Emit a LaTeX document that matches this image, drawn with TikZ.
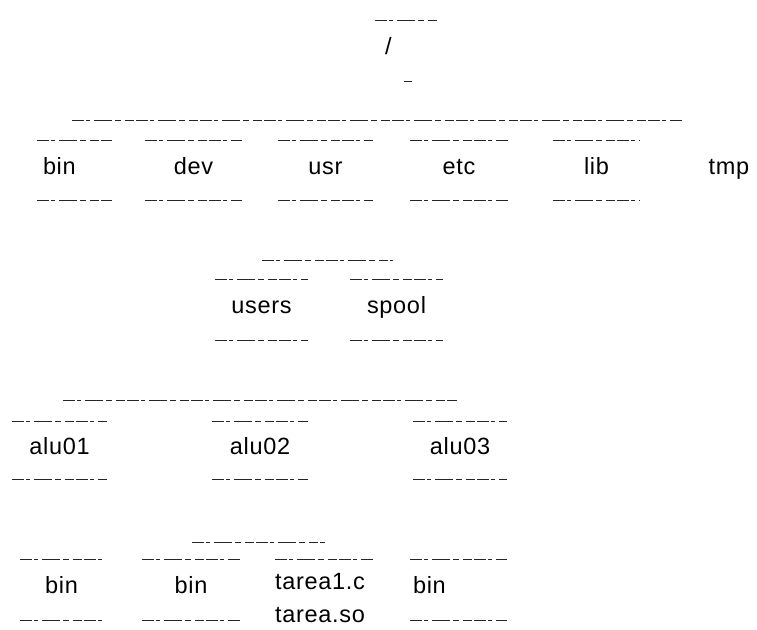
\documentclass[tikz,border=0pt]{standalone}
\usepackage{fontspec}
\setmainfont{Liberation Sans}[LetterSpace=3]
\begin{document}
\begin{tikzpicture}[x=1pt,y=-1pt,
  lbl/.style={font=\fontsize{23.5}{33}\selectfont, text=black},
  dir/.style={lbl, rectangle, inner ysep=0pt, minimum height=59pt,
    text height=0.72em, text depth=0pt},
  cw/.style={inner xsep=0pt, text width=#1pt, align=center},
  lw/.style 2 args={inner xsep=#2pt, text width=#1pt, align=left},
  rule/.style={line width=0.9pt, black!85,
    dash pattern=on 12pt off 2pt on 4pt off 4pt on 18pt off 3pt on 6pt off 4pt on 9pt off 2pt},
  bus/.style={rule}]
\useasboundingbox (0,0) rectangle (757,629);

% root
\node[dir, minimum height=60pt, lw={42}{10}] (root) at (406,51) {/};

% level 1
\node[dir, lw={63}{6}] (bin)  at (74.5,170.5) {bin};
\node[dir, cw=97] (dev)  at (193.5,170.5) {dev};
\node[dir, cw=95] (usr)  at (325.5,170.5) {usr};
\node[dir, cw=98] (etc)  at (459,170.5) {etc};
\node[dir, cw=87] (lib)  at (596.5,170.5) {lib};
\node[dir, cw=50] (tmp)  at (729,170.5) {tmp};

% level 2
\node[dir, minimum height=60pt, cw=93] (users) at (261.5,310) {users};
\node[dir, minimum height=60pt, cw=93] (spool) at (396.5,310) {spool};

% level 3
\node[dir, minimum height=57pt, cw=95] (alu01) at (59.5,450.5) {alu01};
\node[dir, minimum height=57pt, cw=96] (alu02) at (260,450.5) {alu02};
\node[dir, minimum height=57pt, cw=94] (alu03) at (460,450.5) {alu03};

% level 4
\node[dir, minimum height=60pt, cw=83] (binA) at (61.5,590) {bin};
\node[dir, minimum height=60pt, cw=98] (binB) at (191,590) {bin};
\node[dir, minimum height=60pt, lw={91}{3}] (binC) at (458.5,590) {bin};
\node[dir, minimum height=60pt, cw=98] (tareabox) at (324,590) {};
\node[lbl, inner sep=0pt, align=center] (tarea) at (320,598) {tarea1.c\\tarea.so};

% box borders (top and bottom)
\foreach \n in {bin,dev,usr,etc,lib,users,spool,alu01,alu02,alu03,binA,binB,binC}{
  \draw[rule] (\n.north west) -- (\n.north east);
  \draw[rule] (\n.south west) -- (\n.south east);
}
\draw[rule] (root.north west) -- (root.north east);
\draw[rule] ([xshift=-2pt]root.south) -- ([xshift=6pt]root.south);
\draw[rule] (tareabox.north west) -- (tareabox.north east);

% sibling buses
\coordinate (b1l) at (72,120);  \coordinate (b1r) at (682,120);
\coordinate (b2l) at (262,260); \coordinate (b2r) at (393,260);
\coordinate (b3l) at (63,400);  \coordinate (b3r) at (457,400);
\coordinate (b4l) at (192,542); \coordinate (b4r) at (325,542);
\draw[bus] (b1l) -- (b1r);
\draw[bus] (b2l) -- (b2r);
\draw[bus] (b3l) -- (b3r);
\draw[bus] (b4l) -- (b4r);
\end{tikzpicture}
\end{document}
